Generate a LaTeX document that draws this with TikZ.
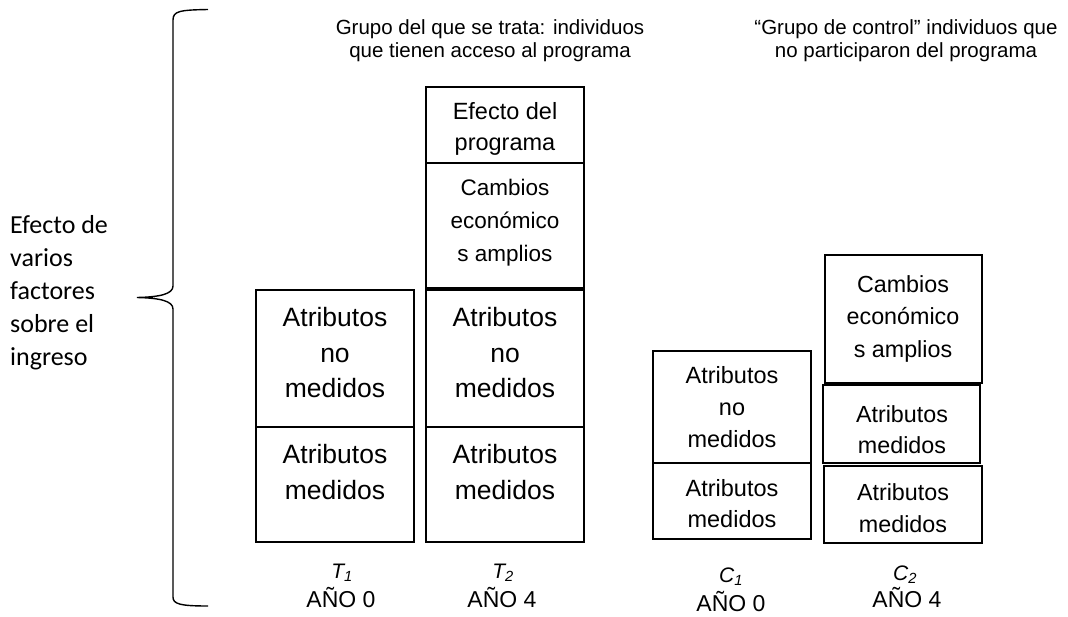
\documentclass[tikz,border=0pt]{standalone}
\usepackage{fontspec}
\setmainfont{Liberation Sans}
\newfontfamily\carlito{Carlito}
\begin{document}
\begin{tikzpicture}[x=1pt,y=-1pt,
  boxst/.style={draw=black, line width=1.4pt, fill=white, inner sep=0pt, rectangle},
  txt/.style={inner sep=0pt, outer sep=0pt, align=center, anchor=north},
  bigf/.style={font=\fontsize{26.5}{35.5}\selectfont},
  medf/.style={font=\fontsize{23.5}{32}\selectfont},
  labT/.style={inner sep=0pt, anchor=base, font=\fontsize{21}{25}\selectfont\itshape},
  labY/.style={inner sep=0pt, anchor=base, font=\fontsize{23}{27}\selectfont},
  toptxt/.style={inner sep=0pt, align=center, anchor=north, font=\fontsize{20.5}{23.5}\selectfont},
]
\newcommand\mkbox[5]{\node[boxst, minimum width={#4-#2}, minimum height={#5-#3}] (#1) at ({(#2+#4)/2},{(#3+#5)/2}) {};}
\useasboundingbox[fill=white] (0,0) rectangle (1068,616);

% brace
\draw[line width=1.4pt] (208,9.5) .. controls (180,10) and (173,11) .. (173,20)
  -- (173,286) .. controls (173,294) and (160,297) .. (137,297.5)
  .. controls (160,298) and (173,301) .. (173,309)
  -- (173,597) .. controls (173,604) and (180,606) .. (208,606);

% left text
\node[inner sep=0pt, anchor=north west, align=left, font=\carlito\fontsize{26}{33}\selectfont] (eff) at (10,209.9)
  {\strut Efecto de\\\strut varios\\\strut factores\\\strut sobre el\\\strut ingreso};

% top texts
\node[toptxt] (gt) at (490,17.5) {\strut Grupo del que se trata: individuos\\\strut que tienen acceso al programa};
\node[toptxt] (gc) at (906,17.5) {\strut “Grupo de control” individuos que\\\strut no participaron del programa};

% T1
\mkbox{t1a}{256}{290}{414}{427}
\mkbox{t1b}{256}{427}{414}{542}
\node[txt,bigf] (t1at) at (335,302) {\strut Atributos\\\strut no\\\strut medidos};
\node[txt,font=\fontsize{26.5}{36}\selectfont] (t1bt) at (335,437.8) {\strut Atributos\\\strut medidos};

% T2
\mkbox{t2b}{426}{163}{584}{288}
\mkbox{t2a}{426}{87}{584}{163}
\mkbox{t2c}{426}{290}{584}{427}
\mkbox{t2d}{426}{427}{584}{542}
\node[txt,font=\fontsize{23.5}{31}\selectfont] (t2at) at (505,97.3) {\strut Efecto del\\\strut programa};
\node[txt,font=\fontsize{22.5}{33}\selectfont] (t2bt) at (505,171.9) {\strut Cambios\\\strut económico\\\strut s amplios};
\node[txt,bigf] (t2ct) at (505,302) {\strut Atributos\\\strut no\\\strut medidos};
\node[txt,font=\fontsize{26.5}{36}\selectfont] (t2dt) at (505,437.8) {\strut Atributos\\\strut medidos};

% C1
\mkbox{c1a}{653}{351}{811}{463}
\mkbox{c1b}{653}{463}{811}{539}
\node[txt,medf] (c1at) at (732,360.6) {\strut Atributos\\\strut no\\\strut medidos};
\node[txt,font=\fontsize{23.5}{31}\selectfont] (c1bt) at (732,474.3) {\strut Atributos\\\strut medidos};

% C2
\mkbox{c2a}{825}{255}{982}{383}
\mkbox{c2b}{823}{385}{980}{463}
\mkbox{c2c}{824}{466}{982}{543}
\node[txt,font=\fontsize{23.3}{32.5}\selectfont] (c2at) at (903,269.3) {\strut Cambios\\\strut económico\\\strut s amplios};
\node[txt,font=\fontsize{23.3}{31}\selectfont] (c2bt) at (902,400.3) {\strut Atributos\\\strut medidos};
\node[txt,font=\fontsize{23.3}{32}\selectfont] (c2ct) at (903,477.6) {\strut Atributos\\\strut medidos};

% labels
\node[labT] (t1l) at (342,578) {T\textsubscript{1}};
\node[labY] (t1y) at (341,607) {AÑO 0};
\node[labT] (t2l) at (503,578) {T\textsubscript{2}};
\node[labY] (t2y) at (502,607) {AÑO 4};
\node[labT] (c1l) at (731,582) {C\textsubscript{1}};
\node[labY] (c1y) at (731,611) {AÑO 0};
\node[labT] (c2l) at (905,580) {C\textsubscript{2}};
\node[labY] (c2y) at (907,607) {AÑO 4};
\end{tikzpicture}
\end{document}
